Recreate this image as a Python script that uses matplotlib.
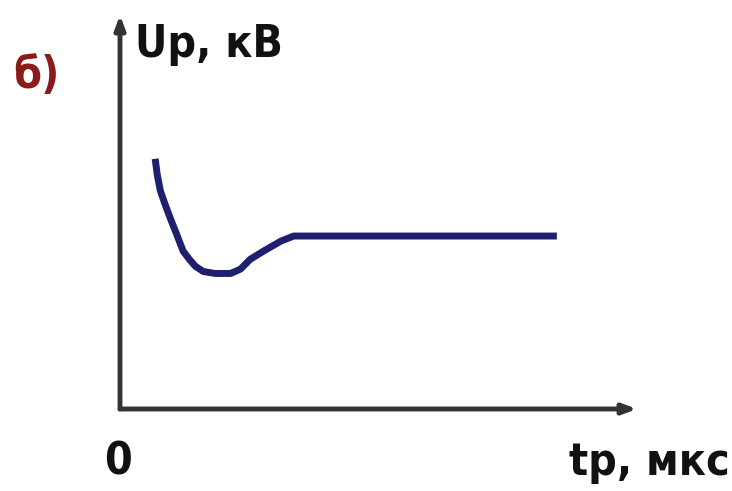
import matplotlib
matplotlib.use("Agg")
import matplotlib.pyplot as plt
from matplotlib import font_manager as fm

# curve (arbitrary units, axis 0..10)
t_vals = [0.68, 0.72, 0.78, 0.87, 0.97, 1.10, 1.22, 1.34, 1.46, 1.61, 1.84, 2.14, 2.33, 2.52, 2.78, 3.11, 3.36, 8.45]
u_vals = [6.35, 5.95, 5.54, 5.20, 4.85, 4.42, 4.01, 3.80, 3.62, 3.49, 3.44, 3.44, 3.55, 3.80, 4.01, 4.26, 4.39, 4.39]

panel_label = "б)"
y_label = "Up, кВ"
x_label = "tр, мкс"
origin_label = "0"

names = sorted({f.name for f in fm.fontManager.ttflist})
print([n for n in names if "Narrow" in n or "Condensed" in n or "DejaVu" in n])

W, H = 732, 491
fig = plt.figure(figsize=(W / 100, H / 100), dpi=100)
ox, oy, x1, y1 = 120, 409, 637, 15
ax = fig.add_axes([ox / W, (H - oy) / H, (x1 - ox) / W, (oy - y1) / H])
ax.set_xlim(0, 10)
ax.set_ylim(0, 10)
ax.axis("off")

fam = ["Liberation Sans Narrow", "DejaVu Sans"]
kw = dict(fontsize=32, fontweight="bold", family=fam, fontstretch="condensed")

arrow = dict(arrowstyle="-|>,head_length=0.8,head_width=0.3", color="#333333", lw=3.5,
             shrinkA=0, shrinkB=0)
ax.annotate("", xy=(10, 0), xytext=(0, 0), arrowprops=arrow, annotation_clip=False)
ax.annotate("", xy=(0, 10), xytext=(0, 0), arrowprops=arrow, annotation_clip=False)

ax.plot(t_vals, u_vals, color="#1f1f70", lw=5, solid_capstyle="butt",
        solid_joinstyle="round", clip_on=False)

fig.text(135 / W, 1 - 45 / H, y_label, ha="left", va="center", color="#111111", **kw)
fig.text(36 / W, 1 - 76 / H, panel_label, ha="center", va="center", color="#8b1a1a", **kw)
fig.text(118 / W, 1 - 462 / H, origin_label, ha="center", va="center", color="#111111", **kw)
fig.text(730 / W, 1 - 462 / H, x_label, ha="right", va="center", color="#111111", **kw)

fig.savefig("out.png", dpi=100, facecolor="white")
